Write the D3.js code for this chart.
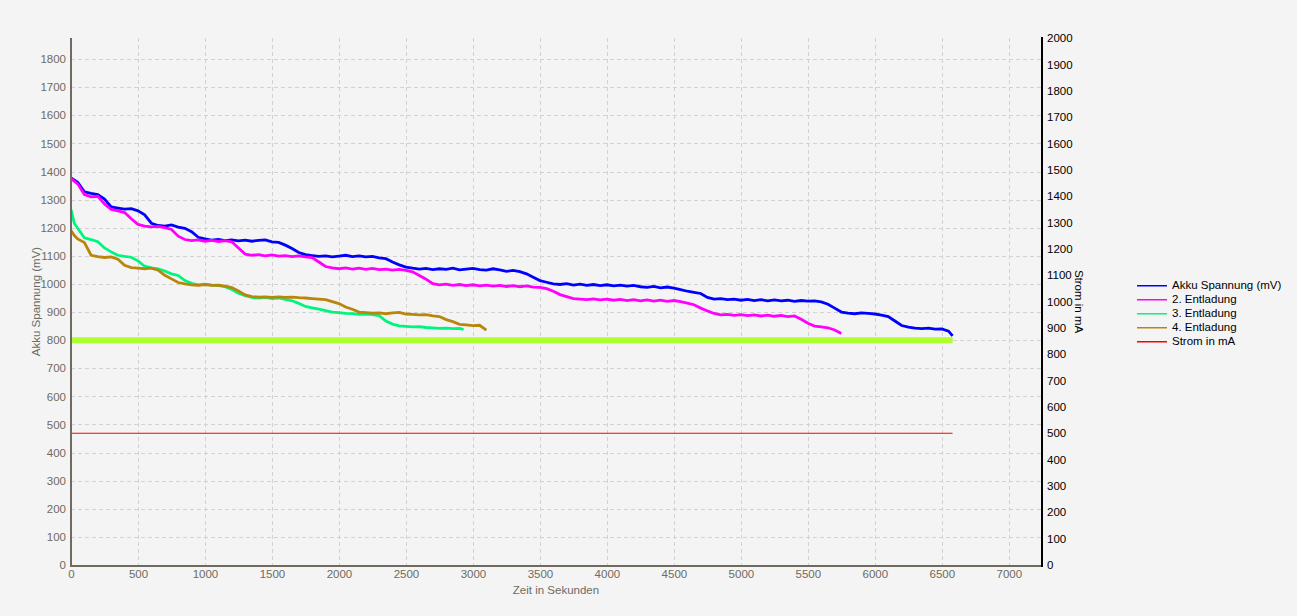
<!DOCTYPE html>
<html><head><meta charset="utf-8">
<script src="https://cdn.jsdelivr.net/npm/d3@7"></script>
<style>
html,body{margin:0;padding:0;background:#f4f4f4;}
svg{display:block;}
text{font-family:"Liberation Sans",Arial,sans-serif;font-size:11px;}
</style></head><body>
<svg id="chart" width="1297" height="616"></svg>
<script>
// ---- data ----
const xTicks = [0,500,1000,1500,2000,2500,3000,3500,4000,4500,5000,5500,6000,6500,7000];
const yLeftTicks = [0,100,200,300,400,500,600,700,800,900,1000,1100,1200,1300,1400,1500,1600,1700,1800];
const yRightTicks = [0,100,200,300,400,500,600,700,800,900,1000,1100,1200,1300,1400,1500,1600,1700,1800,1900,2000];
const seriesNames = ["Akku Spannung (mV)","2. Entladung","3. Entladung","4. Entladung","Strom in mA"];
const seriesColors = ["#0000ff","#ff00ff","#00f57f","#b8860b","#ff0000"];

const akku = [[0,1377],[50,1362],[100,1328],[150,1322],[200,1318],[250,1302],[300,1274],[350,1270],[400,1266],[450,1268],[500,1260],[550,1246],[600,1216],[650,1208],[700,1206],[750,1210],[800,1202],[850,1198],[900,1186],[950,1166],[1000,1160],[1050,1156],[1100,1158],[1150,1154],[1200,1157],[1250,1153],[1300,1156],[1350,1152],[1400,1155],[1450,1157],[1500,1150],[1550,1148],[1600,1138],[1650,1126],[1700,1112],[1750,1104],[1800,1101],[1850,1098],[1900,1100],[1950,1096],[2000,1099],[2050,1102],[2100,1097],[2150,1100],[2200,1096],[2250,1098],[2300,1093],[2350,1090],[2400,1078],[2450,1068],[2500,1060],[2550,1056],[2600,1053],[2650,1055],[2700,1051],[2750,1054],[2800,1052],[2850,1056],[2900,1050],[2950,1053],[3000,1055],[3050,1051],[3100,1049],[3150,1054],[3200,1050],[3250,1045],[3300,1048],[3350,1044],[3400,1036],[3450,1024],[3500,1012],[3550,1006],[3600,1000],[3650,998],[3700,1001],[3750,996],[3800,999],[3850,995],[3900,998],[3950,994],[4000,997],[4050,993],[4100,996],[4150,992],[4200,995],[4250,990],[4300,988],[4350,991],[4400,986],[4450,989],[4500,985],[4550,980],[4600,974],[4650,970],[4700,966],[4750,952],[4800,946],[4850,948],[4900,944],[4950,946],[5000,942],[5050,945],[5100,941],[5150,944],[5200,940],[5250,943],[5300,940],[5350,942],[5400,938],[5450,941],[5500,939],[5550,940],[5600,936],[5650,928],[5700,914],[5750,900],[5800,896],[5850,894],[5900,897],[5950,895],[6000,893],[6050,889],[6100,884],[6150,868],[6200,852],[6250,846],[6300,843],[6350,841],[6400,843],[6450,839],[6500,840],[6550,832],[6580,815]];

const entladung2 = [[0,1375],[50,1356],[100,1318],[150,1310],[200,1312],[250,1284],[300,1265],[350,1260],[400,1254],[450,1232],[500,1212],[550,1206],[600,1203],[650,1205],[700,1200],[750,1194],[800,1170],[850,1158],[900,1154],[950,1157],[1000,1152],[1050,1155],[1100,1151],[1150,1154],[1200,1150],[1250,1128],[1300,1106],[1350,1102],[1400,1104],[1450,1100],[1500,1103],[1550,1099],[1600,1101],[1650,1097],[1700,1100],[1750,1096],[1800,1094],[1850,1078],[1900,1062],[1950,1057],[2000,1054],[2050,1057],[2100,1053],[2150,1056],[2200,1052],[2250,1055],[2300,1051],[2350,1053],[2400,1049],[2450,1052],[2500,1048],[2550,1043],[2600,1030],[2650,1017],[2700,1001],[2750,997],[2800,999],[2850,995],[2900,998],[2950,994],[3000,997],[3050,993],[3100,996],[3150,992],[3200,995],[3250,991],[3300,994],[3350,990],[3400,993],[3450,989],[3500,988],[3550,983],[3600,974],[3650,962],[3700,955],[3750,948],[3800,946],[3850,944],[3900,947],[3950,943],[4000,946],[4050,942],[4100,945],[4150,941],[4200,944],[4250,940],[4300,943],[4350,939],[4400,942],[4450,938],[4500,941],[4550,937],[4600,932],[4650,926],[4700,914],[4750,904],[4800,895],[4850,890],[4900,892],[4950,888],[5000,891],[5050,887],[5100,890],[5150,886],[5200,889],[5250,885],[5300,888],[5350,884],[5400,886],[5450,874],[5500,860],[5550,850],[5600,847],[5650,844],[5700,836],[5750,824]];

const entladung3 = [[0,1265],[25,1215],[50,1198],[100,1164],[150,1158],[200,1150],[250,1128],[300,1114],[350,1102],[400,1098],[450,1095],[500,1082],[550,1063],[600,1057],[650,1054],[700,1046],[750,1036],[800,1030],[850,1012],[900,1002],[950,997],[1000,999],[1050,996],[1100,994],[1150,990],[1200,980],[1250,967],[1300,958],[1350,952],[1400,950],[1450,952],[1500,948],[1550,950],[1600,945],[1650,940],[1700,931],[1750,920],[1800,915],[1850,910],[1900,905],[1950,900],[2000,898],[2050,895],[2100,894],[2150,892],[2200,893],[2250,891],[2300,887],[2350,868],[2400,857],[2450,851],[2500,849],[2550,847],[2600,848],[2650,845],[2700,844],[2750,842],[2800,843],[2850,841],[2900,842],[2930,838]];

const entladung4 = [[0,1190],[25,1172],[50,1160],[100,1147],[150,1102],[200,1097],[250,1094],[300,1096],[350,1088],[400,1066],[450,1058],[500,1056],[550,1054],[600,1056],[650,1049],[700,1031],[750,1018],[800,1005],[850,1000],[900,997],[950,995],[1000,998],[1050,995],[1100,996],[1150,992],[1200,987],[1250,975],[1300,961],[1350,955],[1400,953],[1450,954],[1500,952],[1550,954],[1600,952],[1650,953],[1700,951],[1750,950],[1800,948],[1850,946],[1900,944],[1950,937],[2000,930],[2050,918],[2100,910],[2150,900],[2200,898],[2250,896],[2300,897],[2350,894],[2400,897],[2450,899],[2500,893],[2550,892],[2600,890],[2650,891],[2700,886],[2750,884],[2800,873],[2850,866],[2900,856],[2950,854],[3000,852],[3050,853],[3100,836]];

const strom = [[0,500],[6580,500]];          // right axis (mA)
const grenze = [[0,800],[6580,800]];         // threshold line, left axis (mV)

// ---- layout ----
const svg = d3.select("#chart");
const L = 71, R = 1041, T = 38, B = 565;
const x = d3.scaleLinear().domain([0,7240]).range([L,R]);
const yL = d3.scaleLinear().domain([0,1875]).range([B,T]);
const yR = d3.scaleLinear().domain([0,2000]).range([B,T]);
const gray = "#6f6b60";
const fmt = d3.format("d");

// grid
const grid = svg.append("g").attr("stroke","#d2d2d2").attr("stroke-dasharray","4,3").attr("stroke-width",1);
yLeftTicks.filter(d=>d>0).forEach(d=>{
  grid.append("line").attr("x1",L).attr("x2",R).attr("y1",Math.round(yL(d))+0.5).attr("y2",Math.round(yL(d))+0.5);
});
xTicks.filter(d=>d>0).forEach(d=>{
  grid.append("line").attr("y1",T).attr("y2",B).attr("x1",Math.round(x(d))+0.5).attr("x2",Math.round(x(d))+0.5);
});

// series
const line = (ys)=>d3.line().x(d=>x(d[0])).y(d=>ys(d[1]));
const data = [akku,entladung2,entladung3,entladung4];
data.forEach((s,i)=>{
  svg.append("path").datum(s).attr("d",line(yL)).attr("fill","none")
    .attr("stroke",seriesColors[i]).attr("stroke-width",2.8).attr("stroke-linejoin","miter");
});
svg.append("path").datum(grenze).attr("d",line(yL)).attr("fill","none").attr("stroke","#adff2f").attr("stroke-width",6);
svg.append("path").datum(strom).attr("d",line(yR)).attr("fill","none").attr("stroke",seriesColors[4]).attr("stroke-width",1.2);

// axes
const styleTicks = (g,col)=>{
  g.select(".domain").remove();
  g.selectAll("text").attr("fill",col).style("font-size","11.5px").style("font-family","Liberation Sans, Arial, sans-serif");
};
const axL = svg.append("g").attr("transform",`translate(${L},0)`).call(d3.axisLeft(yL).tickValues(yLeftTicks).tickSize(0).tickPadding(5).tickFormat(fmt));
styleTicks(axL,gray);
const axB = svg.append("g").attr("transform",`translate(0,${B})`).call(d3.axisBottom(x).tickValues(xTicks).tickSize(0).tickPadding(5).tickFormat(fmt));
styleTicks(axB,gray);
const axR = svg.append("g").attr("transform",`translate(${R},0)`).call(d3.axisRight(yR).tickValues(yRightTicks).tickSize(0).tickPadding(6).tickFormat(fmt));
styleTicks(axR,"#000");

svg.append("line").attr("x1",L).attr("x2",L).attr("y1",T).attr("y2",B+2).attr("stroke",gray).attr("stroke-width",2);
svg.append("line").attr("x1",L-1).attr("x2",R).attr("y1",B+1).attr("y2",B+1).attr("stroke",gray).attr("stroke-width",2);
svg.append("line").attr("x1",R+1).attr("x2",R+1).attr("y1",T-1).attr("y2",B+2).attr("stroke","#000").attr("stroke-width",2);

// titles
svg.append("text").attr("x",(L+R)/2).attr("y",594).attr("text-anchor","middle").attr("fill",gray).style("font-size","11.5px").text("Zeit in Sekunden");
svg.append("text").attr("transform",`translate(40,${(T+B)/2}) rotate(-90)`).attr("text-anchor","middle").attr("fill",gray).style("font-size","11.5px").text("Akku Spannung (mV)");
svg.append("text").attr("transform",`translate(1075,${(T+B)/2}) rotate(90)`).attr("text-anchor","middle").attr("fill","#000").style("font-size","11.5px").text("Strom in mA");

// legend
const lg = svg.append("g");
seriesNames.forEach((n,i)=>{
  const yy = 285 + i*14;
  lg.append("rect").attr("x",1137).attr("y",yy).attr("width",30).attr("height",1.5).attr("fill",seriesColors[i]).style("fill",seriesColors[i]);
  lg.append("text").attr("x",1172).attr("y",yy+4).attr("fill","#000").style("font-size","11.5px").text(n);
});
</script></body></html>
